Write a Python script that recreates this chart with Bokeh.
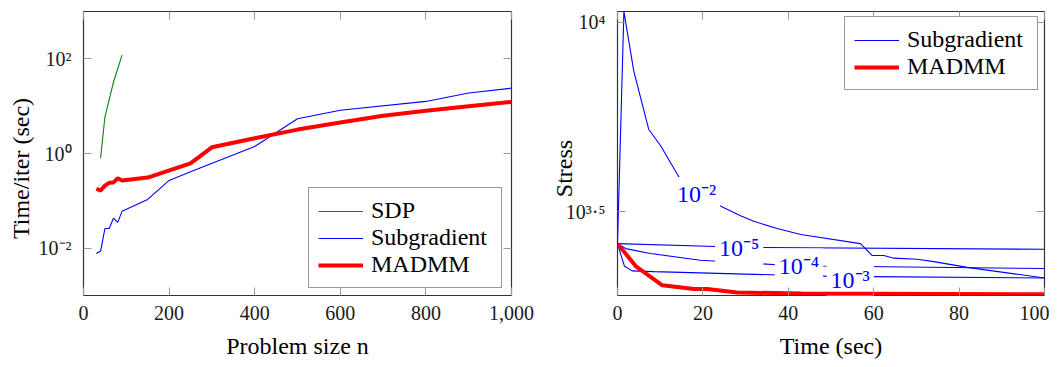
import numpy as np
from bokeh.plotting import figure
from bokeh.models import (ColumnDataSource, FixedTicker, LinearAxis, LogAxis,
                          CustomJSTickFormatter, NumeralTickFormatter, Range1d)
from bokeh.layouts import row
from bokeh.core.properties import value
from bokeh.embed import file_html
from bokeh.resources import INLINE

# ---------------- data: left panel (time per iteration vs problem size) -------------
sdp_n = [40, 50, 70, 90]
sdp_time = [0.8, 5.9, 32, 120]

subg_n = [30, 40, 50, 60, 70, 80, 90, 150, 200, 250, 400, 500, 600, 800, 900, 1000]
subg_time = [0.0077, 0.0087, 0.026, 0.026, 0.043, 0.035, 0.06, 0.107, 0.27, 0.41,
             1.4, 5.4, 8.2, 12.6, 19.0, 24.0]

madmm_n = [30, 40, 50, 60, 70, 80, 90, 150, 250, 300, 400, 500, 600, 700, 800, 900, 1000]
madmm_time = [0.18, 0.165, 0.21, 0.24, 0.245, 0.30, 0.27, 0.31, 0.62, 1.35, 2.1,
              3.2, 4.5, 6.3, 8.0, 10.0, 12.3]

left_xticks = [0, 200, 400, 600, 800, 1000]
left_yticks = [1e-2, 1e0, 1e2]

# ---------------- data: right panel (stress vs time) ---------------------------------
sg2_t = [0, 1.5, 3.8, 7.3, 10.1, 14.8, 22.4, 28.8, 31.9, 37.4, 42.9, 56.9, 59.6,
         62.4, 64.7, 70.2, 74.1, 81.9, 100]
sg2_s = [2600, 10700, 7450, 5220, 4720, 3830, 3340, 3080, 2980, 2850, 2750, 2600,
         2420, 2420, 2380, 2365, 2330, 2250, 2110]

sg5_t = [0, 23, 33, 100]
sg5_s = [2600, 2555, 2540, 2512]

sg4_t = [0, 1.9, 7.7, 19.4, 37.4, 47.1, 100]
sg4_s = [2600, 2523, 2449, 2350, 2286, 2270, 2234]

sg3_t = [0, 1.6, 3.4, 8.5, 49.9, 59.2, 100]
sg3_s = [2600, 2270, 2203, 2193, 2130, 2127, 2109]

madmm_t = [0, 4.4, 10.5, 17.9, 21, 28, 43, 102]
madmm_s = [2600, 2259, 2018, 1972, 1972, 1932, 1919, 1910]

step_labels = ["10\u207b\u00b2", "10\u207b\u2075", "10\u207b\u2074", "10\u207b\u00b3"]
step_label_t = [18.5, 28.5, 42.5, 54.5]
step_label_s = [3516, 2531, 2275, 2090]

right_xticks = [0, 20, 40, 60, 80, 100]
right_yticks = [10 ** 3.5, 1e4]

# ---------------- styling ---------------------------------------------------------------
FONT = "Liberation Serif"
TICK_COLOR = "#9a9a9a"
FRAME_COLOR = "#333333"
NBSP = "\u00a0"

SUP_JS = """
const sup = {"0":"\u2070","1":"\u00b9","2":"\u00b2","3":"\u00b3","4":"\u2074",
             "5":"\u2075","6":"\u2076","7":"\u2077","8":"\u2078","9":"\u2079",
             "-":"\u207b",".":"\u00b7"};
const e = Math.round(Math.log10(tick) * 10) / 10;
return "10" + String(e).split("").map(c => sup[c] || c).join("");
"""


def style_axis(ax, show_labels=True):
    ax.axis_line_color = None
    ax.major_tick_in = 8
    ax.major_tick_out = 0
    ax.major_tick_line_color = TICK_COLOR
    ax.major_tick_line_width = 1
    ax.minor_tick_line_color = None
    ax.major_label_text_font = FONT
    ax.major_label_text_color = "#1a1a1a"
    ax.axis_label_text_font = FONT
    ax.axis_label_text_font_size = "24px"
    ax.axis_label_text_font_style = "normal"
    ax.axis_label_text_color = "black"
    ax.major_label_text_font_size = "20px"
    if not show_labels:
        ax.major_label_text_color = None
        ax.major_label_standoff = 0


def style_fig(p):
    p.xgrid.grid_line_color = None
    p.ygrid.grid_line_color = None
    p.outline_line_color = FRAME_COLOR
    p.outline_line_width = 1.2
    p.background_fill_color = "white"
    p.border_fill_color = "white"


def style_legend(p, loc):
    lg = p.legend[0]
    lg.location = loc
    lg.margin = 0
    lg.padding = 9
    lg.spacing = 0
    lg.glyph_width = 45
    lg.glyph_height = 24
    lg.label_height = 24
    lg.label_width = 121
    lg.label_standoff = 8
    lg.label_text_font = FONT
    lg.label_text_font_size = "24px"
    lg.label_text_color = "black"
    lg.border_line_color = FRAME_COLOR
    lg.border_line_width = 1.2
    lg.background_fill_color = "white"
    lg.background_fill_alpha = 1.0


# ---------------- left figure ---------------------------------------------------------
p1 = figure(frame_width=428, frame_height=284, y_axis_type="log",
            x_range=Range1d(0, 1000), y_range=Range1d(1e-3, 1e3),
            output_backend="svg", toolbar_location=None,
            min_border_left=83, min_border_right=23, min_border_top=10,
            min_border_bottom=0)
style_fig(p1)

p1.line(sdp_n, sdp_time, line_color="#108010", line_width=1.1, legend_label="SDP")
p1.line(subg_n, subg_time, line_color="#0000ff", line_width=1.1, legend_label="Subgradient")
p1.line(madmm_n, madmm_time, line_color="#ff0000", line_width=4, legend_label="MADMM")

p1.xaxis.ticker = FixedTicker(ticks=left_xticks, minor_ticks=[])
p1.xaxis.formatter = NumeralTickFormatter(format="0,0")
p1.xaxis.axis_label = "Problem size n"
p1.yaxis.ticker = FixedTicker(ticks=left_yticks, minor_ticks=[])
p1.yaxis.formatter = CustomJSTickFormatter(code=SUP_JS)
p1.yaxis.axis_label = "Time/iter (sec)" + NBSP * 5
for ax in p1.xaxis + p1.yaxis:
    style_axis(ax)
p1.xaxis.major_label_standoff = 10
p1.xaxis.axis_label_standoff = 10
p1.yaxis.major_label_standoff = 12
p1.yaxis.axis_label_standoff = 2

top1 = LinearAxis(ticker=FixedTicker(ticks=left_xticks, minor_ticks=[]))
right1 = LogAxis(ticker=FixedTicker(ticks=left_yticks, minor_ticks=[]))
for ax in (top1, right1):
    style_axis(ax, False)
    ax.formatter = CustomJSTickFormatter(code="return '';")
p1.add_layout(top1, "above")
p1.add_layout(right1, "right")

style_legend(p1, (225, 7))

# ---------------- right figure --------------------------------------------------------
p2 = figure(frame_width=427, frame_height=284, y_axis_type="log",
            x_range=Range1d(0, 100), y_range=Range1d(1896, 10690),
            output_backend="svg", toolbar_location=None,
            min_border_left=83, min_border_right=5, min_border_top=11,
            min_border_bottom=0)
style_fig(p2)

p2.line(sg2_t, sg2_s, line_color="#0000ff", line_width=1.1, legend_label="Subgradient")
p2.line(sg5_t, sg5_s, line_color="#0000ff", line_width=1.1)
p2.line(sg4_t, sg4_s, line_color="#0000ff", line_width=1.1)
p2.line(sg3_t, sg3_s, line_color="#0000ff", line_width=1.1)

lab_src = ColumnDataSource(dict(t=step_label_t, s=step_label_s, txt=step_labels))
p2.text(x="t", y="s", text="txt", source=lab_src,
        text_font=value(FONT), text_font_size="24px", text_color="#0000ff",
        text_align="center", text_baseline="middle",
        background_fill_color="white", padding=4)

p2.line(madmm_t, madmm_s, line_color="#ff0000", line_width=4, legend_label="MADMM")

p2.xaxis.ticker = FixedTicker(ticks=right_xticks, minor_ticks=[])
p2.xaxis.axis_label = "Time (sec)"
p2.yaxis.ticker = FixedTicker(ticks=right_yticks, minor_ticks=[])
p2.yaxis.formatter = CustomJSTickFormatter(code=SUP_JS)
p2.yaxis.axis_label = "Stress" + NBSP * 5
for ax in p2.xaxis + p2.yaxis:
    style_axis(ax)
p2.xaxis.major_label_standoff = 10
p2.xaxis.axis_label_standoff = 10
p2.yaxis.major_label_standoff = 12
p2.yaxis.axis_label_standoff = -14

top2 = LinearAxis(ticker=FixedTicker(ticks=right_xticks, minor_ticks=[]))
right2 = LogAxis(ticker=FixedTicker(ticks=right_yticks, minor_ticks=[]))
for ax in (top2, right2):
    style_axis(ax, False)
    ax.formatter = CustomJSTickFormatter(code="return '';")
p2.add_layout(top2, "above")
p2.add_layout(right2, "right")

style_legend(p2, (227, 205))

layout = row(p1, p2, spacing=0)
open("out.html", "w").write(file_html(layout, INLINE))
